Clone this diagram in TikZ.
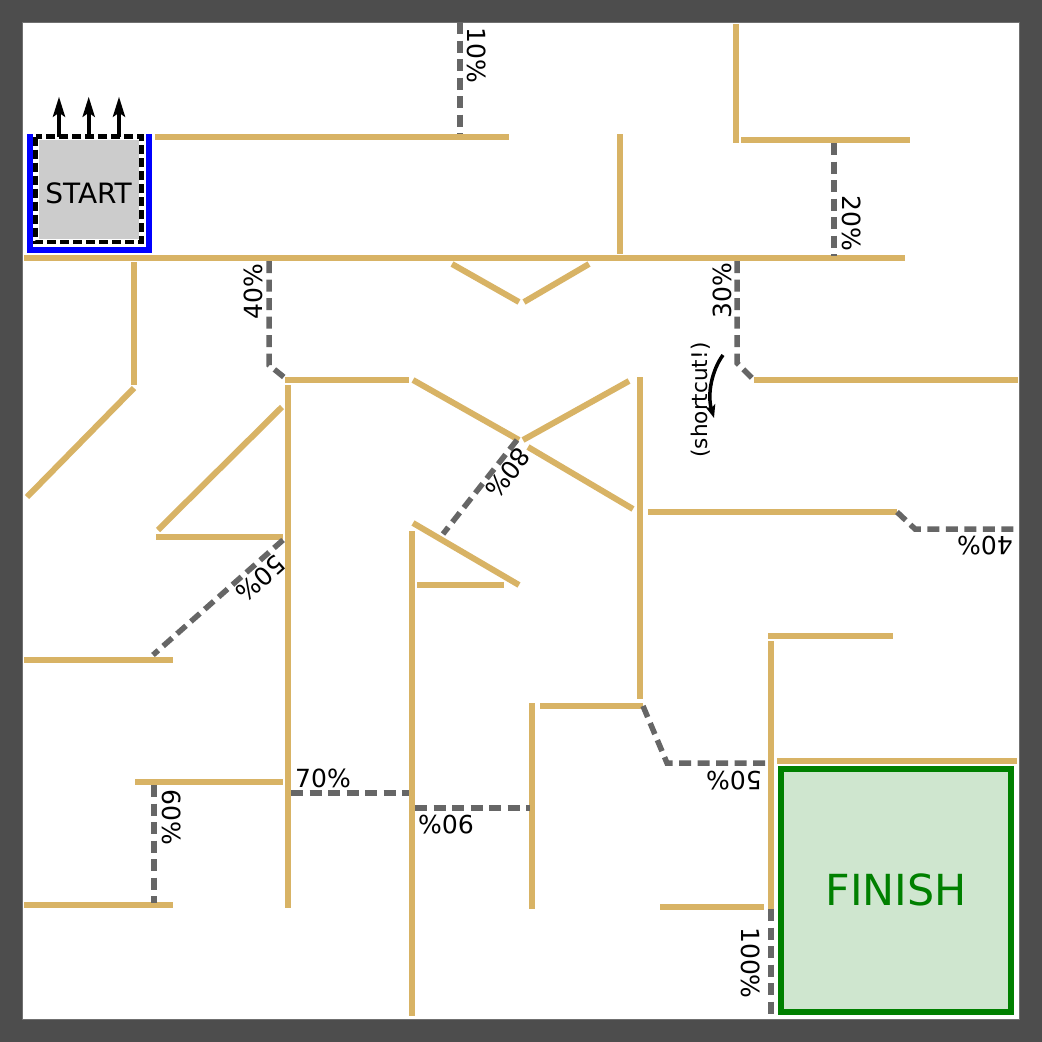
\documentclass[tikz,border=0pt]{standalone}
\usepackage{fontspec}
\setmainfont{DejaVu Sans}
\usetikzlibrary{arrows.meta}
\definecolor{wallc}{RGB}{216,179,101}
\definecolor{pathc}{RGB}{102,102,102}
\definecolor{bgdark}{RGB}{77,77,77}
\definecolor{finfill}{RGB}{207,230,207}
\definecolor{fingreen}{RGB}{0,128,0}
\definecolor{startgray}{RGB}{204,204,204}
\begin{document}
\begin{tikzpicture}[x=1pt,y=-1pt,
  wall/.style={draw=wallc,line width=6pt},
  route/.style={draw=pathc,line width=5.5pt,dash pattern=on 12pt off 6.5pt},
  pct/.style={font=\fontsize{25}{25}\selectfont,inner sep=0pt,anchor=center},
  uparrow/.style={draw=black,line width=4pt,-{Stealth[length=20pt,width=12pt,inset=4pt]}},
  cutarrow/.style={draw=black,line width=3.5pt,-{Stealth[length=13pt,width=10pt,inset=3pt]}}]
% background
\useasboundingbox (0,0) rectangle (1042,1042);
\fill[bgdark] (0,0) rectangle (1042,1042);
\fill[white,draw={rgb,255:red,112;green,112;blue,112},line width=1pt] (22,22) rectangle (1019,1019);

% walls
\draw[wall] (155,137) -- (509,137);
\draw[wall] (24,258) -- (905,258);
\draw[wall] (620,134) -- (620,254);
\draw[wall] (452,264) -- (519,302);
\draw[wall] (524,302) -- (589,264);
\draw[wall] (736,24) -- (736,143);
\draw[wall] (741,140) -- (910,140);
\draw[wall] (754,380) -- (1018,380);
\draw[wall] (648,512) -- (897,512);
\draw[wall] (134,262) -- (134,385);
\draw[wall] (134,388) -- (27,497);
\draw[wall] (285,380) -- (409,380);
\draw[wall] (288,385) -- (288,908);
\draw[wall] (282,407) -- (158,530);
\draw[wall] (156,537) -- (283,537);
\draw[wall] (24,660) -- (173,660);
\draw[wall] (413,380) -- (519,440);
\draw[wall] (523,440) -- (629,381);
\draw[wall] (640,377) -- (640,699);
\draw[wall] (528,447) -- (633,509);
\draw[wall] (413,523) -- (519,585);
\draw[wall] (412,531) -- (412,1016);
\draw[wall] (417,585) -- (504,585);
\draw[wall] (135,782) -- (283,782);
\draw[wall] (24,905) -- (173,905);
\draw[wall] (532,703) -- (532,909);
\draw[wall] (540,706) -- (643,706);
\draw[wall] (771,641) -- (771,909);
\draw[wall] (768,636) -- (893,636);
\draw[wall] (777,761) -- (1017,761);
\draw[wall] (660,907) -- (764,907);

% routes
\draw[route] (460,22) -- (460,134);
\draw[route] (834,143) -- (834,256);
\draw[route] (737,261) -- (737,363) -- (754,380);
\draw[route] (269,261) -- (269,365) -- (285,378);
\draw[route] (897,512) -- (915,529) -- (1016,529);
\draw[route] (283,540) -- (153,655);
\draw[route] (517,440) -- (443,534);
\draw[route] (154,785) -- (154,903);
\draw[route] (291,793) -- (409,793);
\draw[route] (415,808) -- (530,808);
\draw[route] (643,706) -- (667,763) -- (768,763);
\draw[route] (771,909) -- (771,1019);

% labels
\node[pct,rotate=-90] (l10) at (477,55) {10\%};
\node[pct,rotate=-90] (l20) at (852,223) {20\%};
\node[pct,rotate=90] (l30) at (722,291) {30\%};
\node[pct,rotate=90] (l40a) at (253,292) {40\%};
\node[pct,rotate=180] (l40b) at (985,546) {40\%};
\node[pct,rotate=221.5] (l50a) at (261,579) {50\%};
\node[pct,rotate=232] (l80) at (508,473) {80\%};
\node[pct,rotate=-90] (l60) at (172,817) {60\%};
\node[pct] (l70) at (323,778) {70\%};
\node[pct,rotate=180] (l90) at (446,825) {90\%};
\node[pct,rotate=180] (l50b) at (734,781) {50\%};
\node[pct,rotate=-90] (l100) at (751,963) {100\%};

% shortcut
\node[font=\fontsize{21.6}{22}\selectfont,inner sep=0pt,rotate=90] (cut) at (701,400) {(shortcut!)};
\coordinate (cs) at (723,355);
\coordinate (ce) at (714,418);
\draw[cutarrow] (cs) .. controls (712,370) and (707,394) .. (ce);

% start
\draw[blue,line width=6pt] (29.7,134) -- (29.7,249.5) -- (148.7,249.5) -- (148.7,134);
\node[fill=startgray,draw=white,line width=6pt,minimum width=106pt,minimum height=105.3pt,inner sep=0pt,outer sep=0pt] (start) at (88.7,189.3) {};
\draw[black,line width=4.5pt,dash pattern=on 9pt off 4pt] (start.north west) rectangle (start.south east);
\node[font=\fontsize{28}{28}\selectfont,inner sep=0pt] (startlbl) at (88.5,193.7) {START};
\draw[uparrow] ([xshift=-29.7pt]start.north) -- ++(0,-40);
\draw[uparrow] (start.north) -- ++(0,-40);
\draw[uparrow] ([xshift=30.3pt]start.north) -- ++(0,-40);

% finish
\node[fill=finfill,draw=fingreen,line width=5.7pt,minimum width=230pt,minimum height=243pt,inner sep=0pt] (finish) at (896,890.5) {};
\node[text=fingreen,font=\fontsize{42.8}{43}\selectfont,inner sep=0pt] (finlbl) at (896,890) {FINISH};
\end{tikzpicture}
\end{document}
